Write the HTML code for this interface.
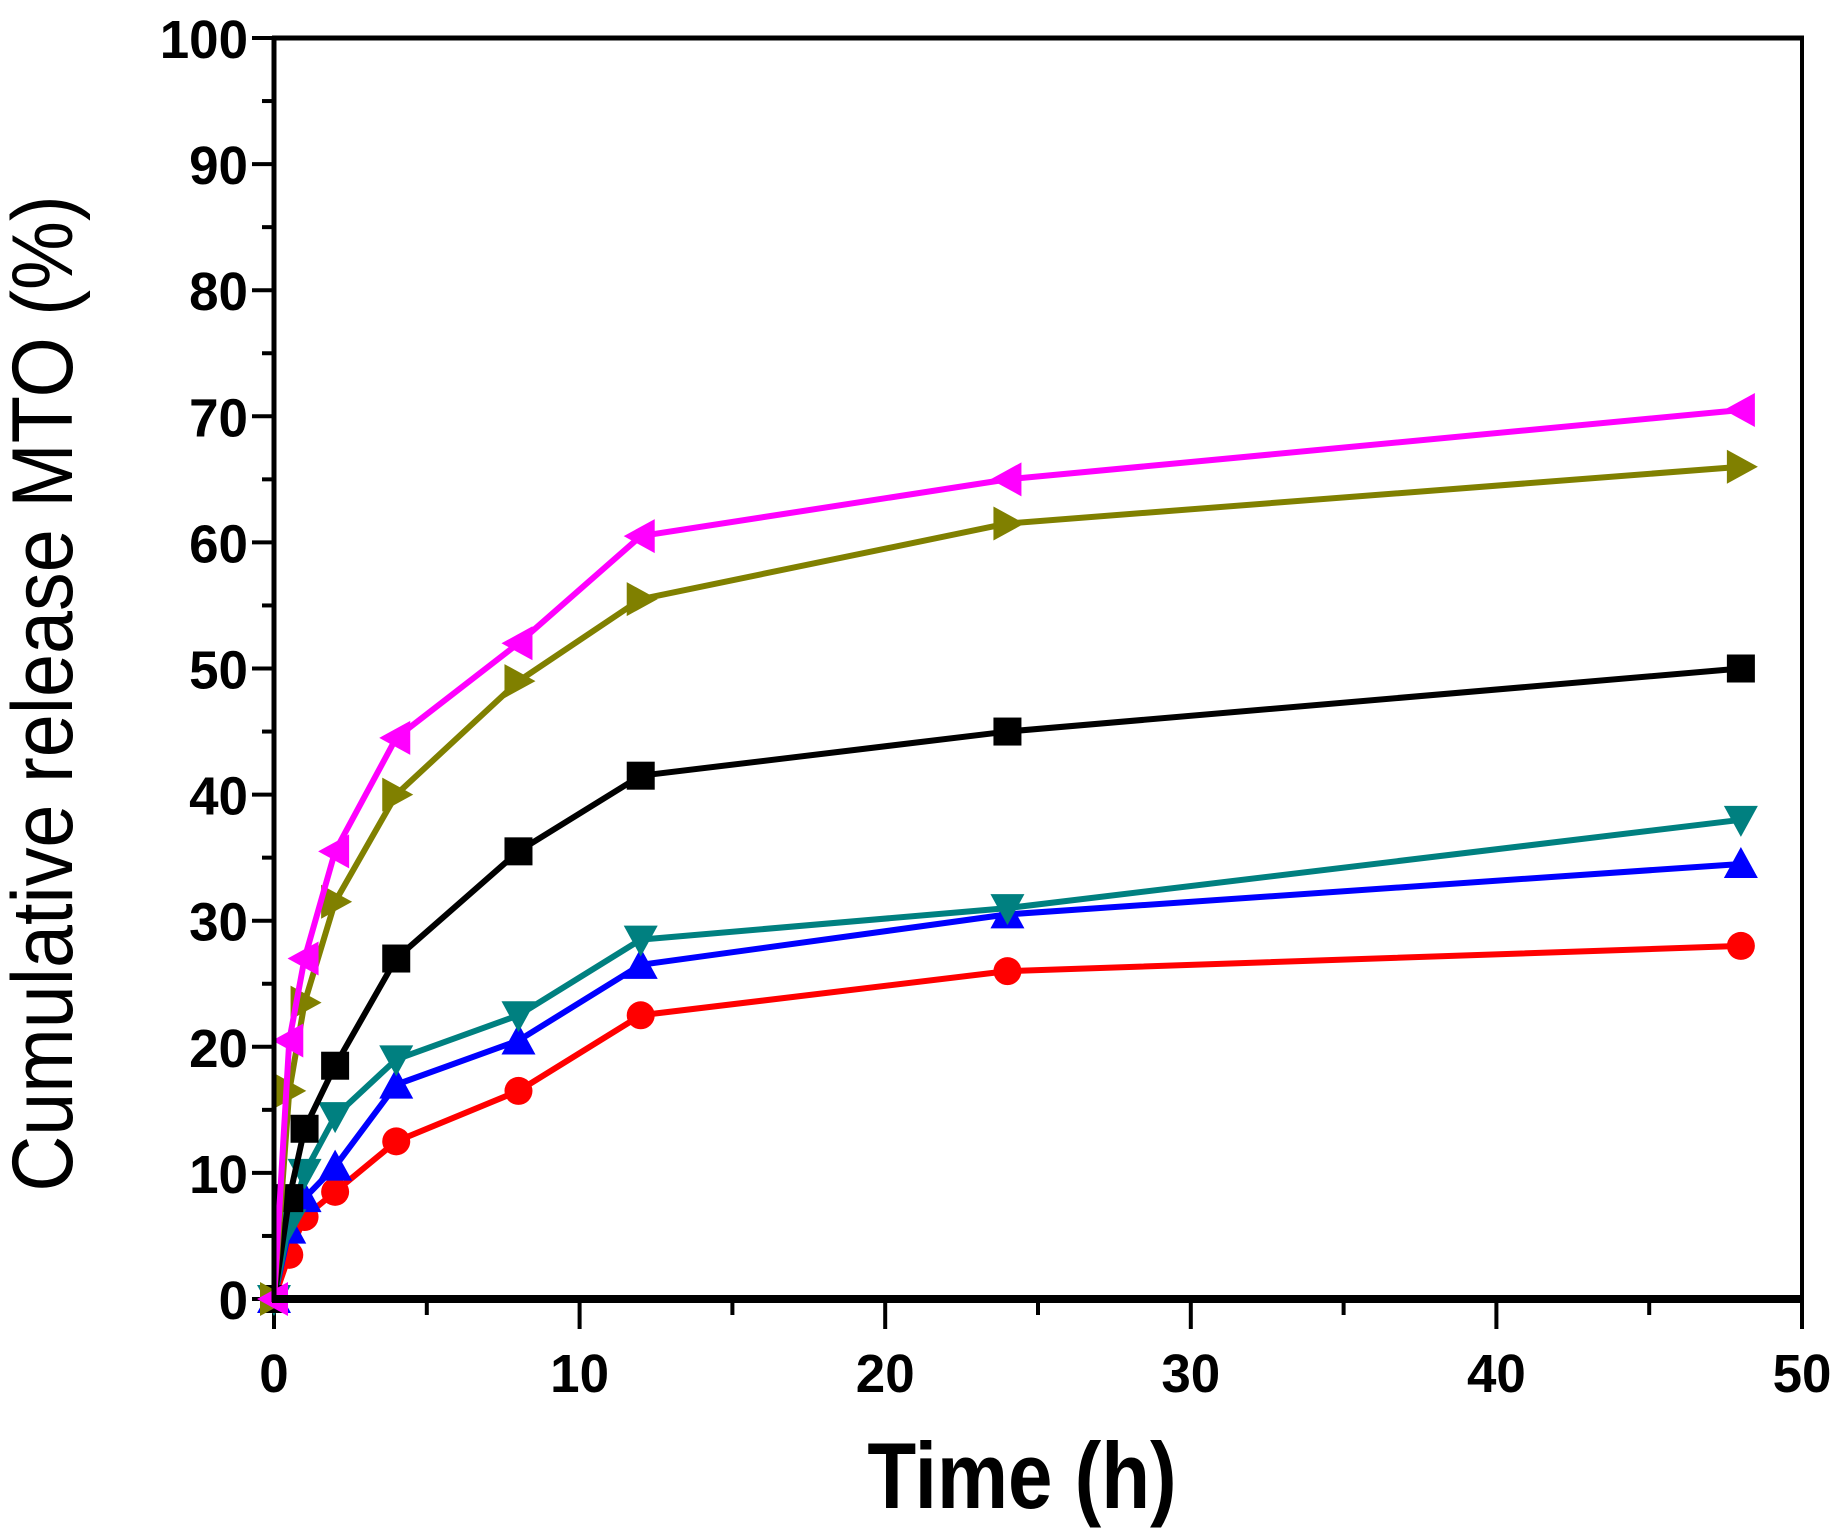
<!DOCTYPE html>
<html><head><meta charset="utf-8"><style>
html,body{margin:0;padding:0;background:#fff;}
svg{display:block;}
text{font-family:"Liberation Sans",sans-serif;fill:#000;}
</style></head><body>
<svg id="chart" width="1846" height="1540" viewBox="0 0 1846 1540" xmlns="http://www.w3.org/2000/svg"></svg>
<script>
const timesH = [0, 0.5, 1, 2, 4, 8, 12, 24, 48];
const seriesPink = [0, 20.5, 27, 35.5, 44.5, 52, 60.5, 65, 70.5];
const seriesOlive = [0, 16.5, 23.5, 31.5, 40, 49, 55.5, 61.5, 66];
const seriesBlack = [0, 8, 13.5, 18.5, 27, 35.5, 41.5, 45, 50];
const seriesTeal = [0, 6, 10, 14.5, 19, 22.5, 28.5, 31, 38];
const seriesBlue = [0, 5.5, 8, 10.5, 17, 20.5, 26.5, 30.5, 34.5];
const seriesRed = [0, 3.5, 6.5, 8.5, 12.5, 16.5, 22.5, 26, 28];
const xTickLabels = [0, 10, 20, 30, 40, 50];
const yTickLabels = [0, 10, 20, 30, 40, 50, 60, 70, 80, 90, 100];

const NS = "http://www.w3.org/2000/svg";
const svg = document.getElementById('chart');
const X0 = 274, X1 = 1802, Y0 = 1299, Y1 = 38;
const xs = v => X0 + (v / 50) * (X1 - X0);
const ys = v => Y0 - (v / 100) * (Y0 - Y1);
function mk(tag, attrs, parent) {
  const e = document.createElementNS(NS, tag);
  for (const k in attrs) e.setAttribute(k, attrs[k]);
  (parent || svg).appendChild(e);
  return e;
}

const ticks = mk('g', {});


for (let v = 0; v <= 100; v += 5) {
  const major = v % 10 === 0;
  mk('line', {x1: X0 - (major ? 22 : 12), x2: X0, y1: ys(v), y2: ys(v), stroke: '#000', 'stroke-width': 4}, ticks);
}
for (let v = 0; v <= 50; v += 5) {
  const major = v % 10 === 0;
  mk('line', {x1: xs(v), x2: xs(v), y1: Y0, y2: Y0 + (major ? 30 : 16), stroke: '#000', 'stroke-width': 4}, ticks);
}
yTickLabels.forEach(v => {
  const t = mk('text', {x: 0, y: 0, 'font-size': 54, 'font-weight': 'bold', 'text-anchor': 'end',
    transform: `translate(${X0 - 26},${ys(v) + 20}) scale(0.98,1)`});
  t.textContent = v;
  
  
});
xTickLabels.forEach(v => {
  const t = mk('text', {x: 0, y: 0, 'font-size': 54, 'font-weight': 'bold', 'text-anchor': 'middle',
    transform: `translate(${xs(v)},${Y0 + 93}) scale(0.98,1)`});
  t.textContent = v;
  
  
});

const series = [
  {name: 'series-red', data: seriesRed, color: '#ff0000', m: 'circle'},
  {name: 'series-blue', data: seriesBlue, color: '#0000ff', m: 'up'},
  {name: 'series-teal', data: seriesTeal, color: '#008080', m: 'down'},
  {name: 'series-black', data: seriesBlack, color: '#000000', m: 'square'},
  {name: 'series-olive', data: seriesOlive, color: '#808000', m: 'right'},
  {name: 'series-pink', data: seriesPink, color: '#ff00ff', m: 'left'}
];
const S = 14;
series.forEach(s => {
  const g = mk('g', {});
  
  
  const pts = s.data.map((v, i) => xs(timesH[i]) + ',' + ys(v)).join(' ');
  const pl = mk('polyline', {points: pts, fill: 'none', stroke: s.color, 'stroke-width': 6, 'stroke-linejoin': 'round'}, g);
  
  
  s.data.forEach((v, i) => {
    const x = xs(timesH[i]), y = ys(v);
    let e;
    if (s.m === 'circle') e = mk('circle', {cx: x, cy: y, r: S, fill: s.color}, g);
    else if (s.m === 'square') e = mk('rect', {x: x - S, y: y - S, width: 2 * S, height: 2 * S, fill: s.color}, g);
    else {
      let p;
      if (s.m === 'up') p = [[x, y - S - 3], [x - S - 3, y + S], [x + S + 3, y + S]];
      if (s.m === 'down') p = [[x, y + S + 3], [x - S - 3, y - S], [x + S + 3, y - S]];
      if (s.m === 'right') p = [[x + S + 3, y], [x - S, y - S - 3], [x - S, y + S + 3]];
      if (s.m === 'left') p = [[x - S - 3, y], [x + S, y - S - 3], [x + S, y + S + 3]];
      e = mk('polygon', {points: p.map(q => q.join(',')).join(' '), fill: s.color}, g);
    }
    
    
  });
});

const frame = mk('g', {});


mk('line', {x1: X0 - 2, x2: X1 + 2, y1: Y1, y2: Y1, stroke: '#000', 'stroke-width': 5}, frame);
mk('line', {x1: X1, x2: X1, y1: Y1, y2: Y0, stroke: '#000', 'stroke-width': 4}, frame);
mk('line', {x1: X0, x2: X0, y1: Y1, y2: Y0 + 3, stroke: '#000', 'stroke-width': 5}, frame);
mk('line', {x1: X0 - 2, x2: X1 + 2, y1: Y0, y2: Y0, stroke: '#000', 'stroke-width': 8}, frame);

const xt = mk('text', {x: 0, y: 0, 'font-size': 94, 'font-weight': 'bold', 'text-anchor': 'middle', transform: `translate(1022,1508) scale(0.85,1)`});
xt.textContent = 'Time (h)';


const yt = mk('text', {x: 0, y: 0, 'font-size': 86, 'text-anchor': 'middle', transform: `translate(72,${(Y0 + Y1) / 2 + 25}) rotate(-90) scale(0.9,1)`});
yt.textContent = 'Cumulative release MTO (%)';


</script>
</body></html>
